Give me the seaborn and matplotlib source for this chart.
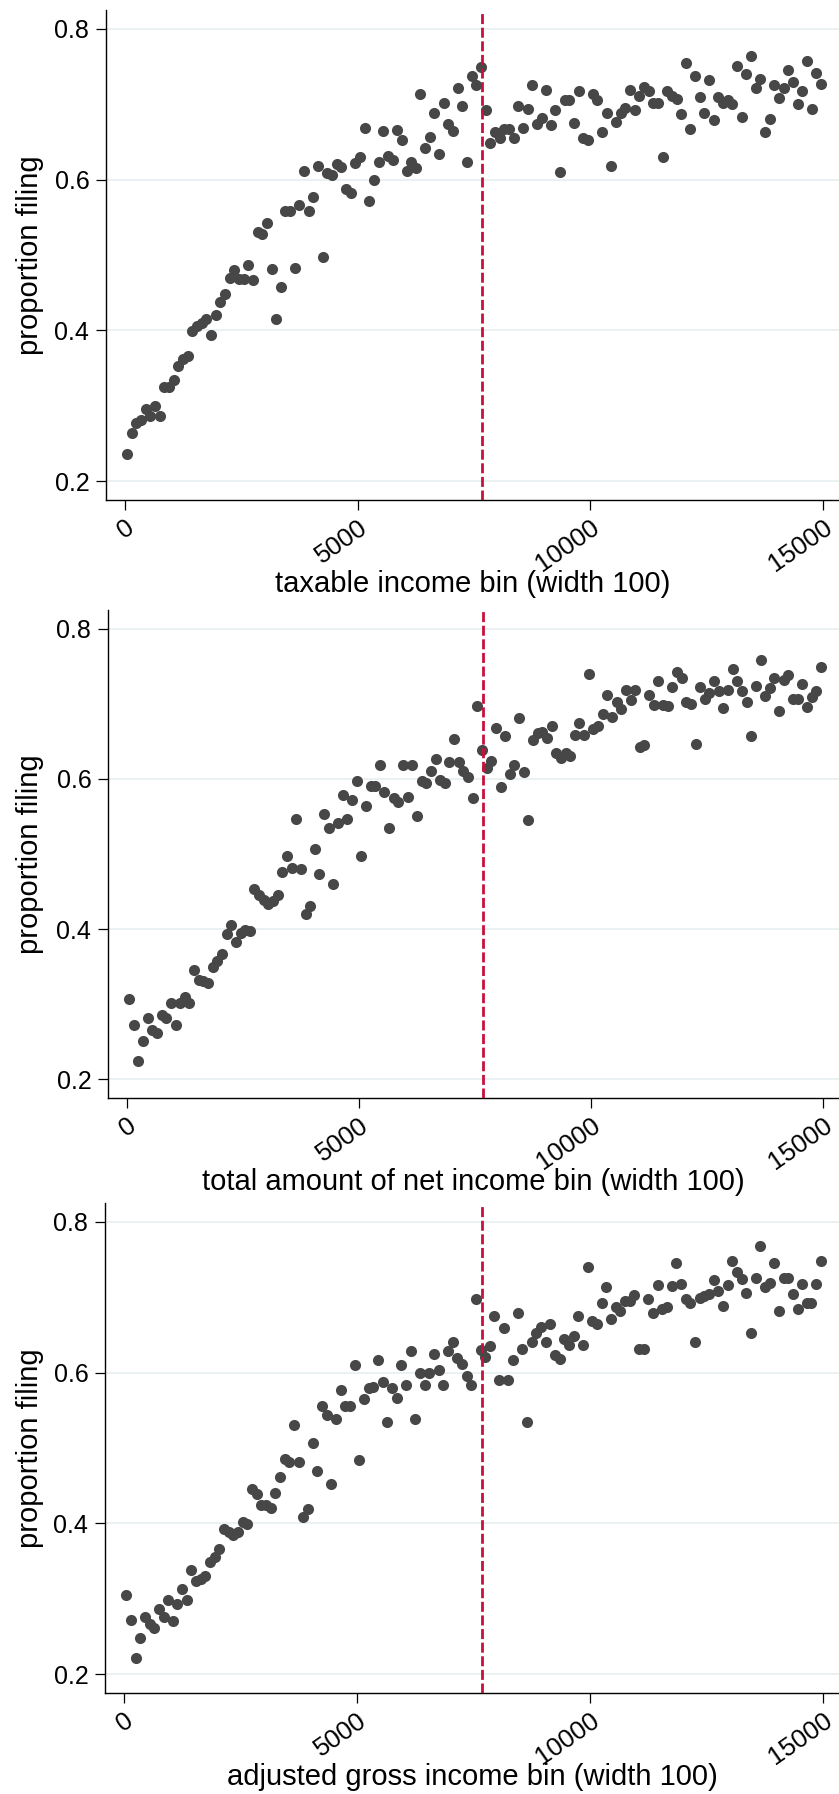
import numpy as np
import pandas as pd
import matplotlib
matplotlib.use("Agg")
import matplotlib.pyplot as plt
import seaborn as sns

# ---------------- data ----------------
bin_width = 100
n_bins = 150
cutoff = 7680
x_ticks = [0, 5000, 10000, 15000]
x_ticklabels = ["0", "5000", "10000", "15000"]
y_ticks = [0.2, 0.4, 0.6, 0.8]
y_ticklabels = ["0.2", "0.4", "0.6", "0.8"]
y_label = "proportion filing"
x_labels = [
    "taxable income bin (width 100)",
    "total amount of net income bin (width 100)",
    "adjusted gross income bin (width 100)",
]

taxable = [
    0.236, 0.264, 0.277, 0.281, 0.296, 0.286, 0.300, 0.287, 0.325, 0.325,
    0.334, 0.353, 0.362, 0.366, 0.399, 0.406, 0.410, 0.415, 0.394, 0.421,
    0.438, 0.448, 0.470, 0.480, 0.468, 0.468, 0.487, 0.467, 0.531, 0.528,
    0.543, 0.482, 0.415, 0.458, 0.558, 0.558, 0.483, 0.566, 0.611, 0.559,
    0.577, 0.618, 0.498, 0.609, 0.606, 0.621, 0.617, 0.588, 0.582, 0.622,
    0.630, 0.668, 0.571, 0.600, 0.624, 0.665, 0.631, 0.626, 0.666, 0.652,
    0.611, 0.623, 0.616, 0.713, 0.642, 0.657, 0.688, 0.634, 0.702, 0.674,
    0.665, 0.721, 0.698, 0.623, 0.737, 0.726, 0.750, 0.692, 0.649, 0.663,
    0.655, 0.667, 0.667, 0.655, 0.698, 0.668, 0.694, 0.725, 0.674, 0.682,
    0.719, 0.672, 0.693, 0.610, 0.705, 0.705, 0.675, 0.718, 0.655, 0.652,
    0.713, 0.706, 0.663, 0.689, 0.618, 0.676, 0.688, 0.695, 0.719, 0.693,
    0.711, 0.723, 0.718, 0.702, 0.702, 0.630, 0.718, 0.711, 0.707, 0.687,
    0.755, 0.667, 0.737, 0.710, 0.688, 0.732, 0.679, 0.709, 0.701, 0.705,
    0.700, 0.751, 0.683, 0.740, 0.764, 0.721, 0.733, 0.663, 0.680, 0.725,
    0.708, 0.722, 0.746, 0.730, 0.700, 0.718, 0.757, 0.694, 0.741, 0.727,
]

net_income = [
    0.307, 0.272, 0.224, 0.251, 0.282, 0.266, 0.262, 0.286, 0.281, 0.301,
    0.272, 0.301, 0.309, 0.301, 0.346, 0.332, 0.331, 0.328, 0.349, 0.358,
    0.367, 0.394, 0.406, 0.383, 0.395, 0.399, 0.397, 0.453, 0.445, 0.439,
    0.433, 0.437, 0.446, 0.476, 0.497, 0.482, 0.546, 0.480, 0.420, 0.431,
    0.507, 0.474, 0.553, 0.535, 0.460, 0.541, 0.578, 0.547, 0.572, 0.597,
    0.497, 0.564, 0.590, 0.591, 0.618, 0.583, 0.535, 0.575, 0.569, 0.618,
    0.576, 0.618, 0.551, 0.597, 0.594, 0.610, 0.626, 0.598, 0.594, 0.622,
    0.653, 0.622, 0.610, 0.602, 0.574, 0.697, 0.639, 0.614, 0.624, 0.668,
    0.589, 0.657, 0.606, 0.618, 0.681, 0.609, 0.545, 0.652, 0.661, 0.662,
    0.654, 0.670, 0.635, 0.628, 0.634, 0.631, 0.659, 0.674, 0.659, 0.740,
    0.666, 0.670, 0.687, 0.712, 0.683, 0.703, 0.693, 0.718, 0.705, 0.718,
    0.643, 0.645, 0.712, 0.699, 0.730, 0.699, 0.697, 0.722, 0.743, 0.734,
    0.702, 0.700, 0.647, 0.722, 0.706, 0.714, 0.730, 0.717, 0.694, 0.719,
    0.747, 0.730, 0.717, 0.703, 0.657, 0.724, 0.759, 0.710, 0.721, 0.734,
    0.691, 0.732, 0.738, 0.707, 0.706, 0.726, 0.696, 0.709, 0.717, 0.749,
]

agi = [
    0.305, 0.272, 0.221, 0.248, 0.276, 0.266, 0.261, 0.287, 0.276, 0.299,
    0.270, 0.293, 0.313, 0.298, 0.338, 0.323, 0.326, 0.330, 0.349, 0.356,
    0.366, 0.392, 0.389, 0.384, 0.389, 0.402, 0.399, 0.446, 0.439, 0.425,
    0.425, 0.420, 0.440, 0.461, 0.485, 0.482, 0.531, 0.481, 0.408, 0.419,
    0.506, 0.470, 0.556, 0.544, 0.452, 0.538, 0.577, 0.556, 0.556, 0.610,
    0.484, 0.565, 0.580, 0.581, 0.617, 0.587, 0.534, 0.579, 0.566, 0.610,
    0.584, 0.629, 0.538, 0.599, 0.584, 0.600, 0.625, 0.604, 0.584, 0.629,
    0.641, 0.619, 0.612, 0.595, 0.583, 0.697, 0.630, 0.621, 0.635, 0.675,
    0.590, 0.659, 0.590, 0.617, 0.679, 0.631, 0.534, 0.641, 0.653, 0.661,
    0.641, 0.664, 0.624, 0.618, 0.645, 0.636, 0.649, 0.675, 0.636, 0.740,
    0.668, 0.664, 0.693, 0.713, 0.671, 0.687, 0.682, 0.695, 0.695, 0.703,
    0.631, 0.631, 0.698, 0.679, 0.716, 0.685, 0.687, 0.715, 0.746, 0.718,
    0.698, 0.692, 0.641, 0.699, 0.702, 0.704, 0.723, 0.708, 0.689, 0.716,
    0.748, 0.734, 0.724, 0.706, 0.653, 0.725, 0.768, 0.714, 0.719, 0.745,
    0.682, 0.725, 0.725, 0.704, 0.684, 0.718, 0.692, 0.692, 0.717, 0.748,
]

# bin midpoints (bins of width 100 starting at 0)
bins = np.arange(n_bins) * bin_width + bin_width / 2
series = [taxable, net_income, agi]

# ---------------- style ----------------
sns.set_style("white")
plt.rcParams["font.family"] = ["Liberation Sans", "DejaVu Sans"]

W, H = 839, 1794
fig = plt.figure(figsize=(W / 100, H / 100), dpi=100)

# axes boxes in pixels: left, top, right, bottom
boxes = [(106, 10, 839, 500), (108, 610, 839, 1098), (105, 1203, 839, 1693)]

marker_color = "#474747"
grid_color = "#e8f0f2"
line_color = "#c8103c"

for vals, xl, (l, t, r, b) in zip(series, x_labels, boxes):
    ax = fig.add_axes([l / W, 1 - b / H, (r - l) / W, (b - t) / H])
    df = pd.DataFrame({"bin": bins, "prop": vals})
    for yt in y_ticks:
        ax.axhline(yt, color=grid_color, lw=1.3, zorder=0)
    sns.scatterplot(data=df, x="bin", y="prop", ax=ax, s=64,
                    color=marker_color, linewidth=0, zorder=3, legend=False)
    ax.axvline(cutoff, color=line_color, lw=2.0, dashes=(3.6, 1.3), zorder=4)

    ax.set_xlim(-405, 15340)
    ax.set_ylim(0.175, 0.825)

    ax.set_yticks(y_ticks)
    ax.set_yticklabels(y_ticklabels, fontsize=18)
    ax.set_xticks(x_ticks)
    ax.set_xticklabels(x_ticklabels, fontsize=18.5, rotation=35,
                       ha="right", va="top", rotation_mode="anchor")
    ax.tick_params(axis="both", which="major", direction="out", length=7,
                   width=0.9, color="black", labelcolor="black",
                   bottom=True, left=True, top=False, right=False)
    ax.tick_params(axis="y", pad=5)
    ax.tick_params(axis="x", pad=4)

    for side in ["top", "right"]:
        ax.spines[side].set_visible(False)
    for side in ["left", "bottom"]:
        ax.spines[side].set_color("black")
        ax.spines[side].set_linewidth(1.0)

    ax.set_xlabel(xl, fontsize=21, color="black")
    ax.xaxis.label.set_va("center")
    ax.xaxis.set_label_coords(0.5, -84 / (b - t))
    ax.set_ylabel(y_label, fontsize=21, color="black")
    ax.yaxis.label.set_va("center")
    ax.yaxis.set_label_coords(-(l - 30) / (r - l), 0.5)
    ax.set_facecolor("white")

fig.savefig("out.png", dpi=100, facecolor="white")
